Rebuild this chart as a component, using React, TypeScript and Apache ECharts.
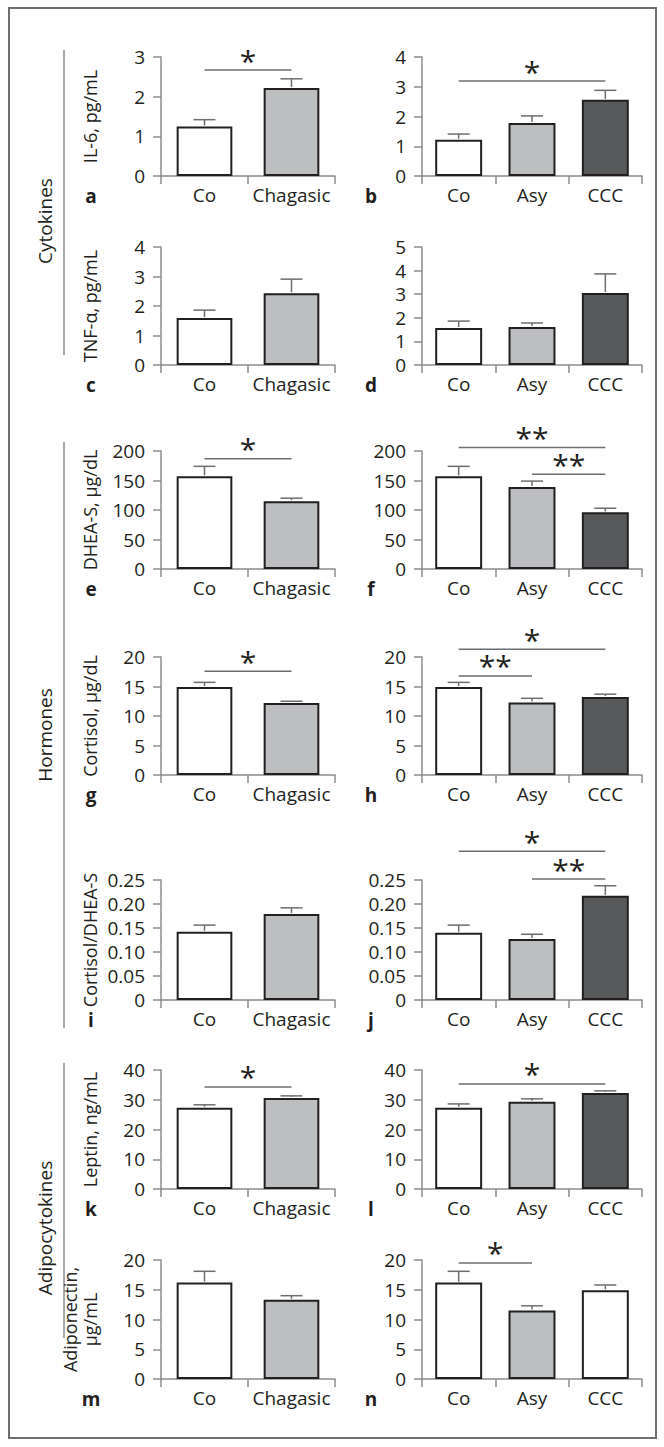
import React, { useEffect, useRef } from "react";
import * as echarts from "echarts";

// ---------- categories ----------
const catsTwo = ["Co", "Chagasic"];
const catsThree = ["Co", "Asy", "CCC"];

// ---------- values (mean) and upper error (mean + SEM) ----------
const il6Two = [1.25, 2.22];
const il6TwoErr = [1.42, 2.45];
const il6Three = [1.22, 1.78, 2.56];
const il6ThreeErr = [1.41, 2.02, 2.88];

const tnfTwo = [1.59, 2.43];
const tnfTwoErr = [1.86, 2.91];
const tnfThree = [1.57, 1.61, 3.05];
const tnfThreeErr = [1.86, 1.78, 3.86];

const dheaTwo = [157, 115];
const dheaTwoErr = [174, 120];
const dheaThree = [157, 139, 96];
const dheaThreeErr = [174, 149, 103];

const cortTwo = [14.9, 12.2];
const cortTwoErr = [15.7, 12.5];
const cortThree = [14.9, 12.3, 13.2];
const cortThreeErr = [15.7, 13.0, 13.7];

const ratioTwo = [0.142, 0.179];
const ratioTwoErr = [0.156, 0.192];
const ratioThree = [0.14, 0.127, 0.217];
const ratioThreeErr = [0.156, 0.137, 0.238];

const leptinTwo = [27.3, 30.6];
const leptinTwoErr = [28.3, 31.3];
const leptinThree = [27.3, 29.3, 32.3];
const leptinThreeErr = [28.6, 30.3, 33.0];

const adipoTwo = [16.2, 13.3];
const adipoTwoErr = [18.1, 14.0];
const adipoThree = [16.2, 11.5, 14.9];
const adipoThreeErr = [18.1, 12.3, 15.8];

// ---------- significance brackets: [fromIndex, toIndex, yValue, stars] ----------
const sigA = [[0, 1, 2.67, 1]];
const sigB = [[0, 2, 3.19, 1]];
const sigE = [[0, 1, 187, 1]];
const sigF = [[0, 2, 206, 2], [1, 2, 160.5, 2]];
const sigG = [[0, 1, 17.6, 1]];
const sigH = [[0, 2, 21.3, 1], [0, 1, 16.8, 2]];
const sigJ = [[0, 2, 0.31, 1], [1, 2, 0.252, 2]];
const sigK = [[0, 1, 34.3, 1]];
const sigL = [[0, 2, 35.3, 1]];
const sigN = [[0, 1, 19.5, 1]];

// ---------- axis scales ----------
const yMaxes = [3, 4, 4, 5, 200, 200, 20, 20, 0.25, 0.25, 40, 40, 20, 20];
const ySteps = [1, 1, 1, 1, 50, 50, 5, 5, 0.05, 0.05, 10, 10, 5, 5];

// ---------- texts ----------
const panelLetters = ["a", "b", "c", "d", "e", "f", "g", "h", "i", "j", "k", "l", "m", "n"];
const yNames = [
  "IL-6, pg/mL",
  "TNF-\u03b1, pg/mL",
  "DHEA-S, \u03bcg/dL",
  "Cortisol, \u03bcg/dL",
  "Cortisol/DHEA-S",
  "Leptin, ng/mL",
  "Adiponectin,\n\u03bcg/mL",
];
const sectionNames = ["Cytokines", "Hormones", "Adipocytokines"];

// ---------- styles / layout ----------
const WHITE = "#ffffff";
const GRAY = "#bcbec0";
const DARK = "#58595b";
const fillsTwo = [WHITE, GRAY];
const fillsThree = [WHITE, GRAY, DARK];
const fillsN = [WHITE, GRAY, WHITE];

const TEXT = "#231f20";
const AXIS = "#8a8c8e";
const LINE = "#6d6e71";
const FONT = "'Open Sans', 'DejaVu Sans', sans-serif";
const FS = 19;
const NAME_FS = 18;

const rowTops = [57, 247, 451, 657, 880, 1070, 1260];
const rowBottoms = [176, 365, 569, 775, 1000, 1189, 1379];
const colLeft = [161, 422];
const colWidth = [174, 220];
const letterX = [91, 371];
const sectionSpans = [
  [50, 355],
  [442, 1028],
  [1063, 1338],
];
const sectionCenters = [221, 735, 1228];

const panelData: { cats: string[]; vals: number[]; errs: number[]; sig: number[][]; fills: string[] }[] = [
  { cats: catsTwo, vals: il6Two, errs: il6TwoErr, sig: sigA, fills: fillsTwo },
  { cats: catsThree, vals: il6Three, errs: il6ThreeErr, sig: sigB, fills: fillsThree },
  { cats: catsTwo, vals: tnfTwo, errs: tnfTwoErr, sig: [], fills: fillsTwo },
  { cats: catsThree, vals: tnfThree, errs: tnfThreeErr, sig: [], fills: fillsThree },
  { cats: catsTwo, vals: dheaTwo, errs: dheaTwoErr, sig: sigE, fills: fillsTwo },
  { cats: catsThree, vals: dheaThree, errs: dheaThreeErr, sig: sigF, fills: fillsThree },
  { cats: catsTwo, vals: cortTwo, errs: cortTwoErr, sig: sigG, fills: fillsTwo },
  { cats: catsThree, vals: cortThree, errs: cortThreeErr, sig: sigH, fills: fillsThree },
  { cats: catsTwo, vals: ratioTwo, errs: ratioTwoErr, sig: [], fills: fillsTwo },
  { cats: catsThree, vals: ratioThree, errs: ratioThreeErr, sig: sigJ, fills: fillsThree },
  { cats: catsTwo, vals: leptinTwo, errs: leptinTwoErr, sig: sigK, fills: fillsTwo },
  { cats: catsThree, vals: leptinThree, errs: leptinThreeErr, sig: sigL, fills: fillsThree },
  { cats: catsTwo, vals: adipoTwo, errs: adipoTwoErr, sig: [], fills: fillsTwo },
  { cats: catsThree, vals: adipoThree, errs: adipoThreeErr, sig: sigN, fills: fillsN },
];

function buildOption() {
  const grid: any[] = [];
  const xAxis: any[] = [];
  const yAxis: any[] = [];
  const series: any[] = [];
  const graphic: any[] = [];

  panelData.forEach((p, k) => {
    const row = Math.floor(k / 2);
    const col = k % 2;
    grid.push({
      left: colLeft[col],
      top: rowTops[row],
      width: colWidth[col],
      height: rowBottoms[row] - rowTops[row],
      containLabel: false,
    });
    xAxis.push({
      type: "category",
      gridIndex: k,
      data: p.cats,
      boundaryGap: true,
      axisLine: { show: true, lineStyle: { color: AXIS, width: 1.5 } },
      axisTick: { show: true, length: 8, interval: 0, alignWithLabel: false, lineStyle: { color: AXIS, width: 1.5 } },
      axisLabel: { interval: 0, margin: 9, fontSize: FS, color: TEXT, fontFamily: FONT },
      splitLine: { show: false },
      z: 1,
    });
    const isRatio = yMaxes[k] < 1;
    yAxis.push({
      type: "value",
      gridIndex: k,
      min: 0,
      max: yMaxes[k],
      interval: ySteps[k],
      splitLine: { show: false },
      axisLine: { show: true, lineStyle: { color: AXIS, width: 1.5 } },
      axisTick: { show: true, length: 8, lineStyle: { color: AXIS, width: 1.5 } },
      axisLabel: {
        margin: 16,
        fontSize: FS,
        color: TEXT,
        fontFamily: FONT,
        formatter: (v: number) => (isRatio ? (v === 0 ? "0" : v.toFixed(2)) : String(Math.round(v * 100) / 100)),
      },
      name: col === 0 ? yNames[row] : "",
      nameLocation: "middle",
      nameRotate: 90,
      nameGap: 61,
      nameTextStyle: { fontSize: NAME_FS, color: TEXT, fontFamily: FONT, lineHeight: 20 },
      z: 1,
    });
    series.push({
      type: "bar",
      xAxisIndex: k,
      yAxisIndex: k,
      barWidth: "64%",
      silent: true,
      itemStyle: { borderColor: TEXT, borderWidth: 2 },
      data: p.vals.map((v, i) => ({ value: v, itemStyle: { color: p.fills[i] } })),
      z: 2,
    });
    series.push({
      type: "custom",
      xAxisIndex: k,
      yAxisIndex: k,
      silent: true,
      clip: false,
      z: 3,
      data: p.vals.map((v, i) => [i, v, p.errs[i]]),
      renderItem: (params: any, api: any) => {
        const top = api.coord([api.value(0), api.value(2)]);
        const base = api.coord([api.value(0), api.value(1)]);
        const half = 11;
        return {
          type: "group",
          children: [
            {
              type: "line",
              shape: { x1: top[0], y1: base[1] - 1, x2: top[0], y2: top[1] },
              style: { stroke: LINE, lineWidth: 1.5 },
            },
            {
              type: "line",
              shape: { x1: top[0] - half, y1: top[1], x2: top[0] + half, y2: top[1] },
              style: { stroke: LINE, lineWidth: 1.5 },
            },
          ],
        };
      },
    });
    if (p.sig.length) {
      series.push({
        type: "custom",
        xAxisIndex: k,
        yAxisIndex: k,
        silent: true,
        clip: false,
        z: 4,
        encode: { x: 0, y: 2 },
        data: p.sig,
        renderItem: (params: any, api: any) => {
          const p0 = api.coord([api.value(0), api.value(2)]);
          const p1 = api.coord([api.value(1), api.value(2)]);
          const n = api.value(3);
          const stars = n === 2 ? "**" : "*";
          return {
            type: "group",
            children: [
              {
                type: "line",
                shape: { x1: p0[0], y1: p0[1], x2: p1[0], y2: p1[1] },
                style: { stroke: LINE, lineWidth: 1.5 },
              },
              {
                type: "text",
                x: (p0[0] + p1[0]) / 2,
                y: p0[1] - 10,
                style: {
                  text: stars,
                  fill: TEXT,
                  fontSize: 30,
                  fontFamily: FONT,
                  align: "center",
                  verticalAlign: "middle",
                  textAlign: "center",
                  textVerticalAlign: "middle",
                },
              },
            ],
          };
        },
      });
    }
    graphic.push({
      type: "text",
      x: letterX[col],
      y: rowBottoms[row] + 20,
      style: {
        text: panelLetters[k],
        fill: TEXT,
        fontSize: 19,
        fontWeight: "bold",
        fontFamily: FONT,
        align: "center",
        verticalAlign: "middle",
        textAlign: "center",
        textVerticalAlign: "middle",
      },
    });
  });

  graphic.push({
    type: "rect",
    shape: { x: 9, y: 8, width: 647, height: 1430 },
    style: { fill: "none", stroke: "#6d6e71", lineWidth: 2 },
    silent: true,
  });
  sectionNames.forEach((name, s) => {
    graphic.push({
      type: "line",
      shape: { x1: 64, y1: sectionSpans[s][0], x2: 64, y2: sectionSpans[s][1] },
      style: { stroke: AXIS, lineWidth: 1.5 },
      silent: true,
    });
    graphic.push({
      type: "text",
      x: 45,
      y: sectionCenters[s],
      rotation: Math.PI / 2,
      style: {
        text: name,
        fill: TEXT,
        fontSize: FS,
        fontFamily: FONT,
        align: "center",
        verticalAlign: "middle",
        textAlign: "center",
        textVerticalAlign: "middle",
      },
    });
  });

  return {
    animation: false,
    backgroundColor: "#ffffff",
    grid,
    xAxis,
    yAxis,
    series,
    graphic,
  };
}

export default function App() {
  const ref = useRef<HTMLDivElement>(null);
  useEffect(() => {
    if (!ref.current) return;
    const chart = echarts.init(ref.current, undefined, { renderer: "svg" });
    chart.setOption(buildOption() as any);
    return () => chart.dispose();
  }, []);
  return (
    <div
      ref={ref}
      style={{ position: "absolute", left: 0, top: 0, width: 664, height: 1447, background: "#fff" }}
    />
  );
}
